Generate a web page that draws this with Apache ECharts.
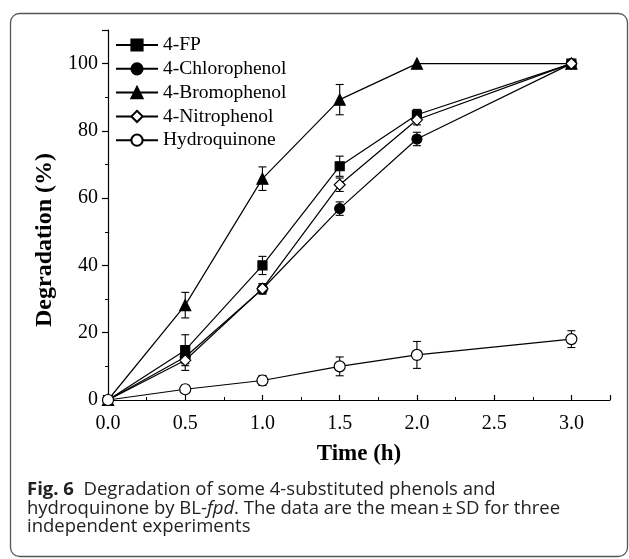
<!DOCTYPE html>
<html>
<head>
<meta charset="utf-8">
<script src="https://cdn.jsdelivr.net/npm/echarts@6/dist/echarts.min.js"></script>
<style>html,body{margin:0;padding:0;background:#fff;}#c{width:629px;height:559px;}</style>
</head>
<body>
<div id="c"></div>
<script>
const times = [0, 0.5, 1.0, 1.5, 2.0, 3.0];
const seriesNames = ['4-FP', '4-Chlorophenol', '4-Bromophenol', '4-Nitrophenol', 'Hydroquinone'];
const fp = [0, 14.8, 40.0, 69.5, 84.8, 100];
const fpErr = [0, 4.6, 2.7, 3.0, 1.6, 0.8];
const chloro = [0, 12.8, 33.0, 56.9, 77.6, 100];
const chloroErr = [0, 2.0, 1.5, 2.0, 2.0, 0.8];
const bromo = [0, 28.2, 65.8, 89.3, 100, 100];
const bromoErr = [0, 3.8, 3.5, 4.5, 0, 0];
const nitro = [0, 11.8, 33.1, 64.0, 83.3, 100];
const nitroErr = [0, 3.0, 1.5, 2.0, 1.5, 0.8];
const hydro = [0, 3.2, 5.8, 10.0, 13.4, 18.1];
const hydroErr = [0, 1.2, 1.5, 2.8, 4.0, 2.5];
const xTicks = [0, 0.5, 1.0, 1.5, 2.0, 2.5, 3.0];
const yTicks = [0, 20, 40, 60, 80, 100];

const values = [fp, chloro, bromo, nitro, hydro];
const errs = [fpErr, chloroErr, bromoErr, nitroErr, hydroErr];
const symbols = ['rect', 'circle', 'triangle', 'diamond', 'circle'];
const sizes = [9, 10, 11, 11, 11];
const fills = ['#000', '#000', '#000', '#fff', '#fff'];

const chart = echarts.init(document.getElementById('c'));
const serif = 'Liberation Serif';

const series = [];
values.forEach((v, i) => {
  series.push({
    name: seriesNames[i],
    type: 'line',
    data: times.map((t, j) => [t, v[j]]),
    symbol: symbols[i],
    symbolSize: sizes[i],
    showAllSymbol: true,
    lineStyle: {color: '#000', width: 1.2},
    itemStyle: {color: fills[i], borderColor: '#000', borderWidth: 1.2},
    z: 3
  });
  series.push({
    name: seriesNames[i],
    type: 'custom',
    data: times.map((t, j) => [t, v[j], errs[i][j]]).filter(d => d[0] > 0 && d[2] > 0),
    renderItem: function (params, api) {
      const x = api.value(0), y = api.value(1), e = api.value(2);
      const top = api.coord([x, y + e]);
      const bot = api.coord([x, y - e]);
      const hw = 4;
      const st = {stroke: '#000', lineWidth: 1.1};
      return {
        type: 'group',
        children: [
          {type: 'line', shape: {x1: top[0], y1: top[1], x2: bot[0], y2: bot[1]}, style: st},
          {type: 'line', shape: {x1: top[0] - hw, y1: top[1], x2: top[0] + hw, y2: top[1]}, style: st},
          {type: 'line', shape: {x1: bot[0] - hw, y1: bot[1], x2: bot[0] + hw, y2: bot[1]}, style: st}
        ]
      };
    },
    z: 2,
    silent: true
  });
});

chart.setOption({
  animation: false,
  backgroundColor: '#fff',
  grid: {left: 108, right: 19, top: 30, bottom: 159},
  legend: {
    data: seriesNames,
    orient: 'vertical',
    left: 115,
    top: 35,
    padding: 0,
    itemWidth: 42,
    itemHeight: 14,
    itemGap: 3.8,
    textStyle: {fontFamily: serif, fontSize: 19.5, lineHeight: 20, color: '#000'},
    selectedMode: false
  },
  xAxis: {
    type: 'value',
    min: 0, max: 3.25, interval: 0.5,
    name: 'Time (h)',
    nameLocation: 'middle',
    nameGap: 43,
    nameTextStyle: {fontFamily: serif, fontSize: 23, fontWeight: 'bold', color: '#000'},
    axisLine: {onZero: false, lineStyle: {color: '#000', width: 1.2}},
    axisTick: {inside: true, length: 5, lineStyle: {color: '#000', width: 1.2}},
    minorTick: {show: true, splitNumber: 2, length: 3, lineStyle: {color: '#000', width: 1}},
    axisLabel: {
      fontFamily: serif, fontSize: 20, color: '#000', margin: 14,
      formatter: function (v) { return xTicks.some(t => Math.abs(t - v) < 1e-6) ? v.toFixed(1) : ''; }
    },
    splitLine: {show: false}
  },
  yAxis: {
    type: 'value',
    min: 0, max: 110, interval: 20,
    name: 'Degradation (%)',
    nameLocation: 'middle',
    nameGap: 49,
    nameTextStyle: {fontFamily: serif, fontSize: 24, fontWeight: 'bold', color: '#000', padding: [0, 50, 0, 0]},
    axisLine: {show: true, onZero: false, lineStyle: {color: '#000', width: 1.2}},
    axisTick: {show: true, inside: false, length: 6, lineStyle: {color: '#000', width: 1.2}},
    minorTick: {show: true, splitNumber: 2, length: 3, lineStyle: {color: '#000', width: 1}},
    axisLabel: {
      fontFamily: serif, fontSize: 20, color: '#000', margin: 10,
      formatter: function (v) { return yTicks.indexOf(v) >= 0 ? String(v) : ''; }
    },
    splitLine: {show: false}
  },
  graphic: [
    {
      type: 'rect',
      shape: {x: 10.5, y: 13.5, width: 617, height: 543, r: 9},
      style: {fill: 'none', stroke: '#555', lineWidth: 1.3},
      silent: true
    },
    {
      type: 'text',
      left: 27,
      top: 480,
      style: {
        text: '{b|Fig. 6}  Degradation of some 4-substituted phenols and\nhydroquinone by BL-{i|fpd}. The data are the mean\u2009\u00b1\u2009SD for three\nindependent experiments',
        fontFamily: 'Open Sans',
        fontSize: 18.5,
        lineHeight: 18.8,
        fill: '#222',
        rich: {
          b: {fontFamily: 'Open Sans', fontWeight: 'bold', fontSize: 18.5, fill: '#222', lineHeight: 18.8},
          i: {fontFamily: 'Open Sans', fontStyle: 'italic', fontSize: 18.5, fill: '#222', lineHeight: 18.8}
        }
      }
    }
  ],
  series: series
});
</script>
</body>
</html>
